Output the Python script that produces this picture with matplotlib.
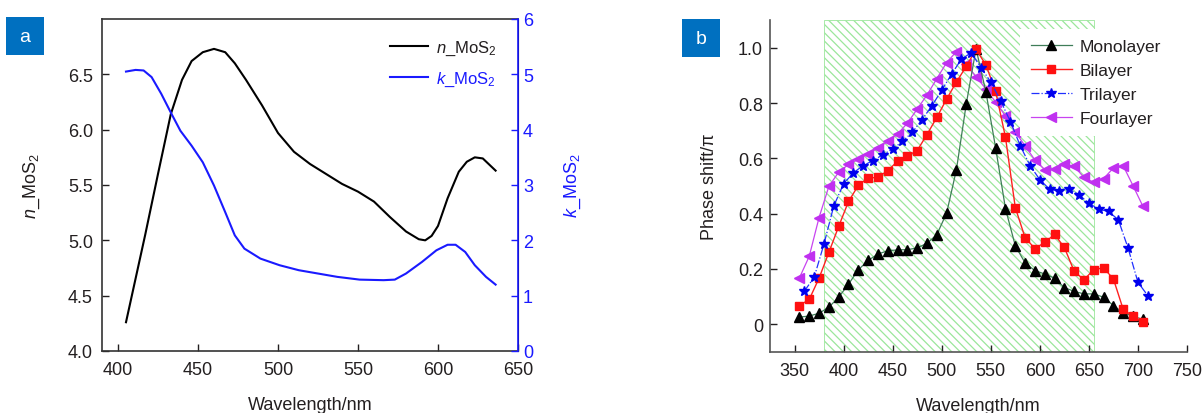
import numpy as np
import matplotlib
matplotlib.use('Agg')
import matplotlib.pyplot as plt

plt.rcParams['font.family'] = ['Liberation Sans', 'DejaVu Sans']
plt.rcParams['mathtext.fontset'] = 'custom'
plt.rcParams['mathtext.rm'] = 'Liberation Sans'
plt.rcParams['mathtext.it'] = 'Liberation Sans:italic'
plt.rcParams['hatch.linewidth'] = 0.9

# ---- panel a: optical constants of MoS2 ----
n_wl = [405, 417, 425, 433, 440, 446, 453, 460, 467, 473, 480, 490, 500, 510,
        520, 530, 540, 550, 560, 570, 580, 588, 592, 596, 600, 606, 613, 618,
        623, 628, 636]
n_val = [4.26, 5.05, 5.60, 6.14, 6.45, 6.62, 6.70, 6.73, 6.70, 6.60, 6.45, 6.22,
         5.97, 5.80, 5.69, 5.60, 5.51, 5.44, 5.35, 5.21, 5.08, 5.01, 5.00, 5.04,
         5.13, 5.38, 5.62, 5.71, 5.75, 5.74, 5.63]

k_wl = [405, 411, 416, 421, 427, 433, 439, 446, 453, 460, 467, 473, 479, 489,
        501, 513, 525, 537, 551, 566, 573, 580, 590, 599, 606, 611, 617, 623,
        630, 636]
k_val = [5.05, 5.08, 5.07, 4.95, 4.65, 4.31, 3.98, 3.71, 3.41, 2.99, 2.51, 2.09,
         1.85, 1.67, 1.55, 1.46, 1.40, 1.34, 1.29, 1.28, 1.29, 1.40, 1.61, 1.82,
         1.92, 1.92, 1.79, 1.55, 1.34, 1.20]

# ---- panel b: phase shift per layer count ----
wl_355 = list(range(355, 706, 10))   # monolayer, bilayer, fourlayer
wl_360 = list(range(360, 711, 10))   # trilayer

mono = [0.026, 0.030, 0.040, 0.062, 0.098, 0.145, 0.197, 0.231, 0.254, 0.266,
        0.269, 0.270, 0.276, 0.293, 0.324, 0.402, 0.559, 0.796, 0.996, 0.841,
        0.637, 0.418, 0.284, 0.222, 0.194, 0.182, 0.167, 0.133, 0.119, 0.110,
        0.110, 0.098, 0.068, 0.042, 0.029, 0.018]
bi = [0.068, 0.090, 0.167, 0.260, 0.354, 0.444, 0.502, 0.529, 0.531, 0.556,
      0.589, 0.609, 0.628, 0.686, 0.748, 0.814, 0.876, 0.932, 0.994, 0.938,
      0.842, 0.676, 0.422, 0.313, 0.274, 0.296, 0.325, 0.278, 0.192, 0.161,
      0.198, 0.204, 0.164, 0.054, 0.029, 0.008]
tri = [0.120, 0.170, 0.290, 0.428, 0.508, 0.548, 0.574, 0.592, 0.613, 0.634,
       0.661, 0.694, 0.740, 0.790, 0.846, 0.904, 0.958, 0.982, 0.928, 0.876,
       0.808, 0.733, 0.646, 0.574, 0.523, 0.488, 0.482, 0.488, 0.468, 0.438,
       0.416, 0.408, 0.378, 0.275, 0.152, 0.104]
four = [0.168, 0.246, 0.386, 0.499, 0.550, 0.578, 0.596, 0.616, 0.637, 0.661,
        0.688, 0.727, 0.778, 0.829, 0.888, 0.946, 0.986, 0.940, 0.895, 0.851,
        0.803, 0.753, 0.695, 0.645, 0.594, 0.559, 0.561, 0.579, 0.571, 0.531,
        0.513, 0.527, 0.565, 0.573, 0.501, 0.427]

band = (380, 655)

txt = '#231f20'
blue = '#1a1aff'

fig = plt.figure(figsize=(12.04, 4.14), dpi=100)

# panel a
ax1 = fig.add_axes([102/1204, 62/414, 416/1204, 332/414])
ax2 = ax1.twinx()
l1, = ax1.plot(n_wl, n_val, color='black', lw=1.5, label=r'$n$_MoS$_2$')
l2, = ax2.plot(k_wl, k_val, color=blue, lw=1.5, label=r'$k$_MoS$_2$')
ax1.set_xlim(390, 650)
ax1.set_ylim(4.0, 7.0)
ax2.set_ylim(0, 6)
ax1.set_xticks([400, 450, 500, 550, 600, 650])
ax1.set_yticks([4.0, 4.5, 5.0, 5.5, 6.0, 6.5])
ax2.set_yticks([0, 1, 2, 3, 4, 5, 6])
ax1.tick_params(direction='in', labelsize=13, colors=txt, length=5, width=1)
ax1.tick_params(axis='x', pad=7)
ax1.tick_params(axis='y', pad=6.5)
ax2.tick_params(direction='in', labelsize=13, colors=blue, length=5, width=1)
for s in ['left', 'bottom', 'top']:
    ax1.spines[s].set_color('#333333')
    ax1.spines[s].set_linewidth(1.2)
ax2.spines['right'].set_color(blue)
ax2.spines['right'].set_linewidth(1.2)
ax2.spines['left'].set_visible(False)
ax2.spines['top'].set_visible(False)
ax2.spines['bottom'].set_visible(False)
ax1.set_ylabel(r'$n$_MoS$_2$', fontsize=13, color=txt)
ax1.yaxis.set_label_coords(-0.144, 0.5)
ax2.set_ylabel(r'$k$_MoS$_2$', fontsize=13, color=blue, rotation=90)
ax2.yaxis.set_label_coords(1.108, 0.5)
ax1.set_xlabel('Wavelength/nm', fontsize=13, color=txt)
ax1.xaxis.set_label_coords(0.5, -0.135)
leg = ax1.legend(handles=[l1, l2], loc='upper right', bbox_to_anchor=(0.985, 0.985),
                 frameon=False, fontsize=12, handlelength=2.3, handletextpad=0.45,
                 labelspacing=0.75)
for t, c in zip(leg.get_texts(), [txt, blue]):
    t.set_color(c)

# panel b
axb = fig.add_axes([770/1204, 61/414, 417/1204, 332/414])
axb.axvspan(band[0], band[1], facecolor='none', edgecolor='#9be69b',
            hatch='\\\\\\\\', linewidth=0.6, zorder=0)
axb.plot(wl_355, mono, color='#3f7d58', lw=0.9, marker='^', ms=6.5,
         mfc='black', mec='black', label='Monolayer', zorder=3)
axb.plot(wl_355, bi, color='#ff2020', lw=1.0, marker='s', ms=5.5,
         mfc='#ff1010', mec='#ff1010', label='Bilayer', zorder=3)
axb.plot(wl_360, tri, color='#2030ff', lw=0.9, ls='-.', marker='*', ms=7,
         mfc='#0000ee', mec='#0000ee', label='Trilayer', zorder=3)
axb.plot(wl_355, four, color='#c844f0', lw=0.9, marker='<', ms=6.5,
         mfc='#c030f0', mec='#c030f0', label='Fourlayer', zorder=2)
axb.set_xlim(325, 750)
axb.set_ylim(-0.1, 1.1)
axb.set_xticks([350, 400, 450, 500, 550, 600, 650, 700, 750])
axb.set_yticks([0, 0.2, 0.4, 0.6, 0.8, 1.0])
axb.set_yticklabels(['0', '0.2', '0.4', '0.6', '0.8', '1.0'])
axb.tick_params(direction='in', labelsize=13, colors=txt, length=5, width=1)
axb.tick_params(axis='x', pad=7)
axb.tick_params(axis='y', pad=5)
axb.spines['top'].set_visible(False)
axb.spines['right'].set_visible(False)
for s in ['left', 'bottom']:
    axb.spines[s].set_color('#555555')
    axb.spines[s].set_linewidth(1.2)
axb.set_ylabel('Phase shift/π', fontsize=13, color=txt)
axb.yaxis.set_label_coords(-0.124, 0.5)
axb.set_xlabel('Wavelength/nm', fontsize=13, color=txt)
axb.xaxis.set_label_coords(0.5, -0.135)
legb = axb.legend(loc='upper left', bbox_to_anchor=(0.579, 1.0), fontsize=12.5,
                  frameon=True, facecolor='white', edgecolor='none', framealpha=1,
                  fancybox=False, handlelength=2.4, handletextpad=0.4,
                  labelspacing=0.5, borderpad=0.6)
for t in legb.get_texts():
    t.set_color(txt)

# panel tags
for x0, y0, s in [(6, 18, 'a'), (682, 20, 'b')]:
    tag = fig.add_axes([x0/1204, (414-y0-38)/414, 38/1204, 38/414])
    tag.set_facecolor('#0070c0')
    tag.set_xticks([])
    tag.set_yticks([])
    for sp in tag.spines.values():
        sp.set_visible(False)
    tag.text(0.5, 0.5, s, color='white', fontsize=14, ha='center', va='center',
             transform=tag.transAxes)

fig.savefig('out.png', dpi=100)
